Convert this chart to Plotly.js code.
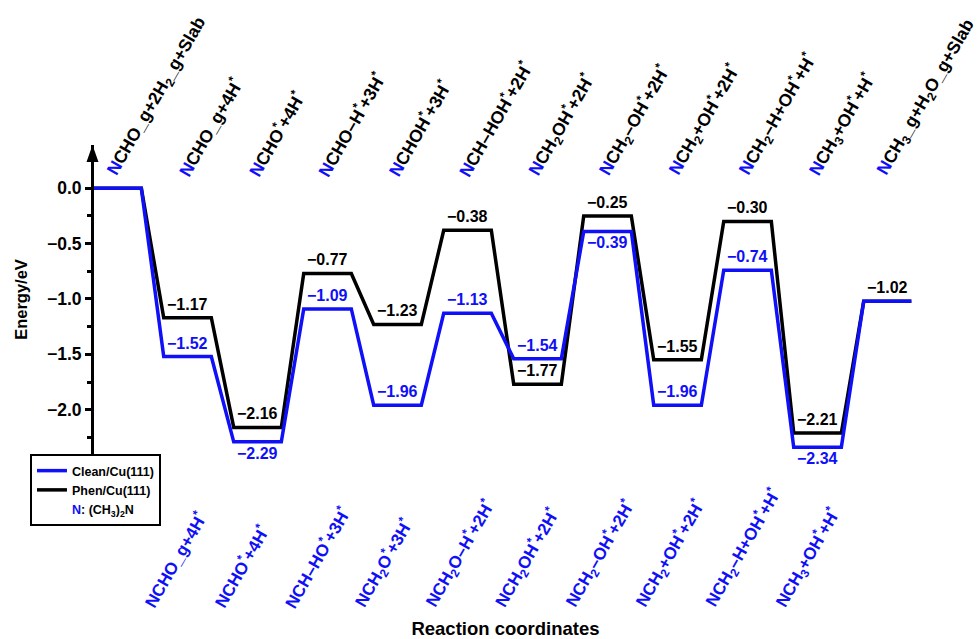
<!DOCTYPE html>
<html>
<head>
<meta charset="utf-8">
<script src="https://cdn.plot.ly/plotly-3.0.1.min.js"></script>
<style>html,body{margin:0;padding:0;background:#fff;}#chart{width:979px;height:639px;}</style>
</head>
<body>
<div id="chart"></div>
<script>
// ---------------- data ----------------
var levelIndex = [1, 2, 3, 4, 5, 6, 7, 8, 9, 10, 11, 12];
var cleanEnergy = [0.00, -1.52, -2.29, -1.09, -1.96, -1.13, -1.54, -0.39, -1.96, -0.74, -2.34, -1.02];
var phenEnergy  = [0.00, -1.17, -2.16, -0.77, -1.23, -0.38, -1.77, -0.25, -1.55, -0.30, -2.21, -1.02];
// which levels carry a printed value
var cleanLabelled = [false, true, true, true, true, true, true, true, true, true, true, false];
var phenLabelled  = [false, true, true, true, true, true, true, true, true, true, true, true];
var topLabels = [
  "CHO_g+2H<sub>2</sub>_g+Slab",
  "CHO_g+4H<sup>*</sup>",
  "CHO<sup>*</sup>+4H<sup>*</sup>",
  "CHO–H<sup>*</sup>+3H<sup>*</sup>",
  "CHOH<sup>*</sup>+3H<sup>*</sup>",
  "CH–HOH<sup>*</sup>+2H<sup>*</sup>",
  "CH<sub>2</sub>OH<sup>*</sup>+2H<sup>*</sup>",
  "CH<sub>2</sub>–OH<sup>*</sup>+2H<sup>*</sup>",
  "CH<sub>2</sub>+OH<sup>*</sup>+2H<sup>*</sup>",
  "CH<sub>2</sub>–H+OH<sup>*</sup>+H<sup>*</sup>",
  "CH<sub>3</sub>+OH<sup>*</sup>+H<sup>*</sup>",
  "CH<sub>3</sub>_g+H<sub>2</sub>O_g+Slab"
];
var bottomLevels = [2, 3, 4, 5, 6, 7, 8, 9, 10, 11];
var bottomLabels = [
  "NCHO_g+4H<sup>*</sup>",
  "NCHO<sup>*</sup>+4H<sup>*</sup>",
  "NCH–HO<sup>*</sup>+3H<sup>*</sup>",
  "NCH<sub>2</sub>O<sup>*</sup>+3H<sup>*</sup>",
  "NCH<sub>2</sub>O–H<sup>*</sup>+2H<sup>*</sup>",
  "NCH<sub>2</sub>OH<sup>*</sup>+2H<sup>*</sup>",
  "NCH<sub>2</sub>–OH<sup>*</sup>+2H<sup>*</sup>",
  "NCH<sub>2</sub>+OH<sup>*</sup>+2H<sup>*</sup>",
  "NCH<sub>2</sub>–H+OH<sup>*</sup>+H<sup>*</sup>",
  "NCH<sub>3</sub>+OH<sup>*</sup>+H<sup>*</sup>"
];
var seriesNames = ["Clean/Cu(111)", "Phen/Cu(111)"];
var yTickVals = [0, -0.5, -1.0, -1.5, -2.0];
var yMinorVals = [-0.25, -0.75, -1.25, -1.75, -2.25];

// ---------------- style ----------------
var BLUE = "#0f0ff8";
var FONT = "Liberation Sans, Arial, Helvetica, sans-serif";
var HALF = 0.34;
var noteLabel = "<span style='color:" + BLUE + "'>N</span><span style='color:#000000'>: (CH<sub>3</sub>)<sub>2</sub>N</span>";

function stepXY(energies) {
  var xs = [], ys = [];
  for (var i = 0; i < energies.length; i++) {
    xs.push(levelIndex[i] - HALF, levelIndex[i] + HALF);
    ys.push(energies[i], energies[i]);
  }
  return {x: xs, y: ys};
}
var phen = stepXY(phenEnergy), clean = stepXY(cleanEnergy);

var traces = [
  {x: phen.x, y: phen.y, mode: "lines", name: seriesNames[1], legendrank: 2,
   line: {color: "#000000", width: 3.5}},
  {x: clean.x, y: clean.y, mode: "lines", name: seriesNames[0], legendrank: 1,
   line: {color: BLUE, width: 3.5}},
  {x: [null], y: [null], mode: "lines", name: noteLabel, legendrank: 3,
   line: {color: "rgba(0,0,0,0)", width: 0}}
];

function fmt(v) { return (v < 0 ? "\u2212" : "") + Math.abs(v).toFixed(2); }

var ann = [];
// value labels
for (var i = 0; i < levelIndex.length; i++) {
  if (phenLabelled[i]) {
    ann.push({x: levelIndex[i], y: phenEnergy[i], xref: "x", yref: "y", text: fmt(phenEnergy[i]),
      showarrow: false, yanchor: "bottom", yshift: 3,
      font: {family: FONT, size: 16, color: "#000", weight: "bold"}});
  }
  if (cleanLabelled[i]) {
    var gap = phenEnergy[i] - cleanEnergy[i];
    var below = gap > 0 && gap < 0.2;
    ann.push({x: levelIndex[i], y: cleanEnergy[i], xref: "x", yref: "y", text: fmt(cleanEnergy[i]),
      showarrow: false, yanchor: below ? "top" : "bottom", yshift: below ? -1 : 3,
      font: {family: FONT, size: 16, color: BLUE, weight: "bold"}});
  }
}
// top state labels (N in blue, rest in black)
for (var j = 0; j < topLabels.length; j++) {
  ann.push({x: levelIndex[j] - 0.25, y: 0.05, xref: "x", yref: "y",
    text: "<span style='color:" + BLUE + "'>N</span><span style='color:#000000'>" + topLabels[j] + "</span>",
    textangle: -60, showarrow: false, xanchor: "left", yanchor: "bottom",
    font: {family: FONT, size: 17.5, color: "#000", weight: "bold"}});
}
// bottom state labels
for (var k = 0; k < bottomLabels.length; k++) {
  ann.push({x: bottomLevels[k] - 0.73, y: -0.518, xref: "x", yref: "paper",
    text: bottomLabels[k], textangle: -60, showarrow: false, xanchor: "left", yanchor: "bottom",
    font: {family: FONT, size: 17, color: BLUE, weight: "bold"}});
}

var layout = {
  width: 979, height: 639,
  margin: {l: 94, r: 62, t: 145, b: 185},
  paper_bgcolor: "#fff", plot_bgcolor: "#fff",
  font: {family: FONT, color: "#000"},
  showlegend: true,
  legend: {x: -0.0778, y: 0, xanchor: "left", yanchor: "top",
    bgcolor: "#fff", bordercolor: "#000", borderwidth: 2,
    font: {family: FONT, size: 12.5, color: "#000", weight: "bold"},
    itemwidth: 30, tracegroupgap: 0},
  xaxis: {range: [0.664, 12.421], showline: false, showgrid: false, zeroline: false,
    showticklabels: false, ticks: "",
    title: {text: "Reaction coordinates", standoff: 168,
      font: {family: FONT, size: 18.5, weight: "bold", color: "#000"}}},
  yaxis: {range: [-2.4, 0.39], showline: true, linewidth: 3, linecolor: "#000",
    showgrid: false, zeroline: false, ticks: "outside", ticklen: 6, tickwidth: 3, tickcolor: "#000",
    tickmode: "array", tickvals: yTickVals, tickformat: ".1f",
    tickfont: {family: FONT, size: 17.5, weight: "bold", color: "#000"},
    minor: {tickmode: "array", tickvals: yMinorVals, ticks: "outside", ticklen: 4, tickwidth: 3, tickcolor: "#000"},
    title: {text: "Energy/eV", standoff: 16,
      font: {family: FONT, size: 16.5, weight: "bold", color: "#000"}}},
  shapes: [
    // arrow head on top of the energy axis
    {type: "path", xref: "paper", yref: "y", xsizemode: "pixel", ysizemode: "pixel",
     xanchor: 0, yanchor: 0.39, path: "M-7.5,-17L4.5,-17L-1.5,0Z",
     fillcolor: "#000", line: {width: 0}}
  ],
  annotations: ann
};

Plotly.newPlot("chart", traces, layout, {staticPlot: true, displayModeBar: false});
</script>
</body>
</html>
